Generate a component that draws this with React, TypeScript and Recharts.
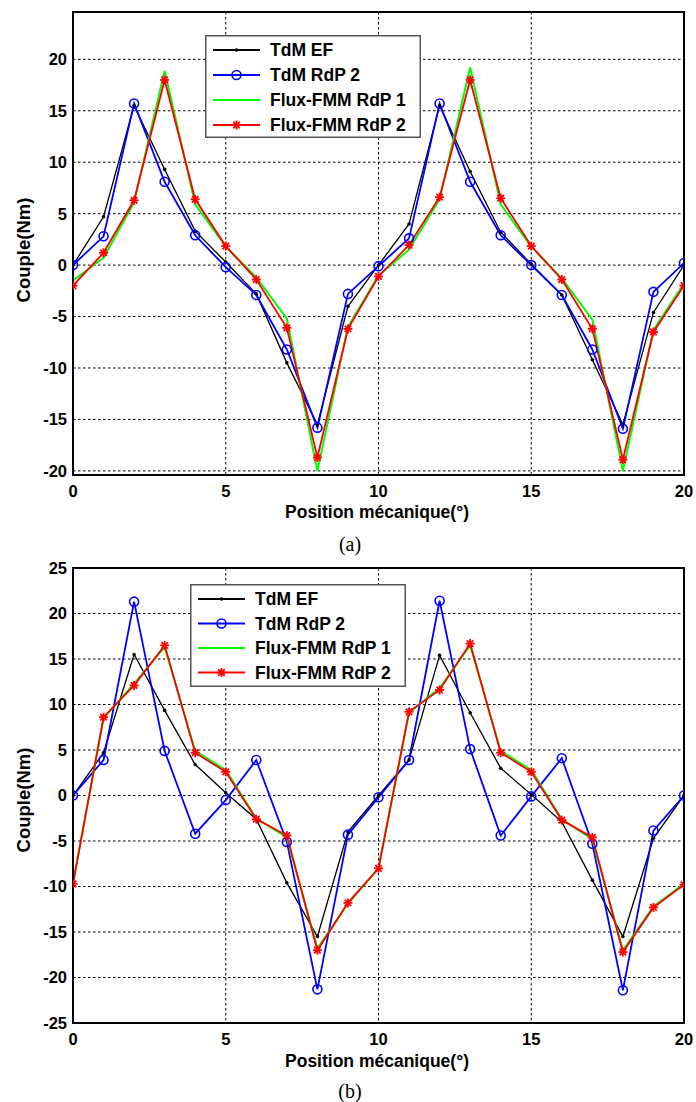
import React from 'react';
import { LineChart, Line, XAxis, YAxis, CartesianGrid, ReferenceArea, Legend } from 'recharts';

// ---------- data ----------
const positions = [0, 1, 2, 3, 4, 5, 6, 7, 8, 9, 10, 11, 12, 13, 14, 15, 16, 17, 18, 19, 20];

const seriesNames = ['TdM EF', 'TdM RdP 2', 'Flux-FMM RdP 1', 'Flux-FMM RdP 2'];

// chart (a)
const aTdmEF = [0, 4.7, 15.5, 9.3, 3.3, 0.3, -2.8, -9.5, -15.5, -4.0, 0, 4.0, 15.5, 9.1, 3.2, 0.1, -2.9, -9.2, -15.5, -4.6, 0];
const aTdmRdP2 = [0, 2.8, 15.7, 8.1, 2.9, -0.2, -2.9, -8.2, -15.8, -2.8, -0.1, 2.6, 15.7, 8.1, 2.9, 0, -2.9, -8.2, -15.9, -2.6, 0.2];
const aFluxRdP1 = [-1.5, 0.7, 6.1, 18.9, 5.9, 1.8, -1.2, -5.2, -20.0, -6.0, -1.0, 1.5, 6.4, 19.2, 5.9, 1.8, -1.3, -5.3, -20.0, -6.3, -1.8];
const aFluxRdP2 = [-2.0, 1.2, 6.3, 18.0, 6.4, 1.85, -1.4, -6.1, -18.7, -6.2, -1.1, 1.95, 6.6, 18.0, 6.5, 1.85, -1.4, -6.2, -18.9, -6.5, -2.0];

// chart (b)
const bTdmEF = [0, 4.7, 15.5, 9.35, 3.4, 0.3, -2.6, -9.6, -15.5, -4.0, 0, 3.9, 15.4, 9.1, 3.0, 0.1, -2.9, -9.3, -15.5, -4.7, 0];
const bTdmRdP2 = [0, 3.9, 21.3, 4.9, -4.2, -0.5, 3.9, -5.1, -21.3, -4.3, -0.2, 3.9, 21.4, 5.1, -4.4, -0.1, 4.1, -5.3, -21.4, -3.85, 0];
const bFluxRdP1 = [-9.6, 8.5, 12.3, 16.3, 4.9, 2.8, -2.5, -4.6, -16.8, -11.9, -8.0, 9.1, 11.8, 16.5, 4.9, 2.8, -2.6, -4.8, -17.0, -12.2, -9.7];
const bFluxRdP2 = [-9.7, 8.6, 12.1, 16.5, 4.7, 2.6, -2.6, -4.4, -17.0, -11.8, -8.0, 9.2, 11.6, 16.7, 4.7, 2.6, -2.7, -4.6, -17.2, -12.3, -9.8];

const xTicks = [0, 5, 10, 15, 20];
const yTicksA = [-20, -15, -10, -5, 0, 5, 10, 15, 20];
const yTicksB = [-25, -20, -15, -10, -5, 0, 5, 10, 15, 20, 25];
const yDomainA: [number, number] = [-20.4, 24.6];
const yDomainB: [number, number] = [-25, 25];

const xTitle = 'Position mécanique(°)';
const yTitle = 'Couple(Nm)';

const buildRows = (ef: number[], r2: number[], f1: number[], f2: number[]) =>
  positions.map((p, i) => ({ pos: p, ef: ef[i], rdp2: r2[i], f1: f1[i], f2: f2[i] }));

const rowsA = buildRows(aTdmEF, aTdmRdP2, aFluxRdP1, aFluxRdP2);
const rowsB = buildRows(bTdmEF, bTdmRdP2, bFluxRdP1, bFluxRdP2);

// ---------- styles ----------
const COLORS = ['#000000', '#0000ff', '#00ff00', '#ff0000'];
const WIDTHS = [1.3, 1.8, 2, 1.8];
const FONT = 'Arial, "Liberation Sans", sans-serif';

// ---------- markers ----------
const dotMarker = (props: any) => {
  const { cx, cy, index } = props;
  if (cx == null || cy == null) return <g key={`d${index}`} />;
  return <circle key={`d${index}`} cx={cx} cy={cy} r={1.8} fill="#000" stroke="none" />;
};

const circleMarker = (props: any) => {
  const { cx, cy, index } = props;
  if (cx == null || cy == null) return <g key={`c${index}`} />;
  return <circle key={`c${index}`} cx={cx} cy={cy} r={4.5} fill="none" stroke="#0000ff" strokeWidth={1.6} />;
};

const StarShape = ({ cx, cy, r, k }: { cx: number; cy: number; r: number; k?: string }) => {
  const d = r * 0.72;
  return (
    <g key={k} stroke="#ff0000" strokeWidth={1.8}>
      <line x1={cx - r} y1={cy} x2={cx + r} y2={cy} />
      <line x1={cx} y1={cy - r} x2={cx} y2={cy + r} />
      <line x1={cx - d} y1={cy - d} x2={cx + d} y2={cy + d} />
      <line x1={cx - d} y1={cy + d} x2={cx + d} y2={cy - d} />
    </g>
  );
};

const starMarker = (props: any) => {
  const { cx, cy, index } = props;
  if (cx == null || cy == null) return <g key={`s${index}`} />;
  return <StarShape key={`s${index}`} k={`s${index}`} cx={cx} cy={cy} r={4.5} />;
};

// ---------- legend ----------
const LegendBox = ({ rowYs }: { rowYs: number[] }) => {
  const w = 216;
  const h = 103;
  const lx1 = 8;
  const lx2 = 55;
  const mx = (lx1 + lx2) / 2;
  const tx = 65;
  return (
    <svg width={w} height={h} style={{ display: 'block' }}>
      <rect x={0.75} y={0.75} width={w - 1.5} height={h - 1.5} fill="#fff" stroke="#555" strokeWidth={1.5} />
      {seriesNames.map((name, i) => {
        const y = rowYs[i];
        return (
          <g key={name}>
            <line x1={lx1} y1={y} x2={lx2} y2={y} stroke={COLORS[i]} strokeWidth={2} />
            {i === 0 && <circle cx={mx} cy={y} r={1.8} fill="#000" />}
            {i === 1 && <circle cx={mx} cy={y} r={4.5} fill="none" stroke="#0000ff" strokeWidth={1.6} />}
            {i === 3 && <StarShape cx={mx} cy={y} r={4.5} />}
            <text x={tx} y={y} dy="0.36em" fontFamily={FONT} fontWeight="bold" fontSize={17.5} fill="#000">
              {name}
            </text>
          </g>
        );
      })}
    </svg>
  );
};

// ---------- one panel ----------
type PanelProps = {
  rows: any[];
  yDomain: [number, number];
  yTicks: number[];
  marginTop: number;
  height: number;
  xAxisHeight: number;
  legendLeft: number;
  legendTop: number;
  rowYs: number[];
};

const Panel = ({ rows, yDomain, yTicks, marginTop, height, xAxisHeight, legendLeft, legendTop, rowYs }: PanelProps) => {
  const tickStyle = { fontFamily: FONT, fontWeight: 'bold' as const, fontSize: 16.5, fill: '#000' };
  return (
    <LineChart
      width={696}
      height={height}
      data={rows}
      margin={{ top: marginTop, right: 12, left: 13, bottom: 0 }}
    >
      <CartesianGrid stroke="#000" strokeDasharray="2.5 2.5" strokeWidth={1} />
      <XAxis
        dataKey="pos"
        type="number"
        domain={[0, 20]}
        ticks={xTicks}
        height={xAxisHeight}
        tick={tickStyle}
        tickLine={false}
        tickSize={6}
        tickMargin={4}
        axisLine={{ stroke: '#000', strokeWidth: 2 }}
        allowDataOverflow
      />
      <YAxis
        type="number"
        domain={yDomain}
        ticks={yTicks}
        width={60}
        tick={tickStyle}
        tickLine={false}
        tickSize={4}
        tickMargin={2}
        axisLine={{ stroke: '#000', strokeWidth: 2 }}
        allowDataOverflow
        interval={0}
      />
      <ReferenceArea
        x1={0}
        x2={20}
        y1={yDomain[0]}
        y2={yDomain[1]}
        fill="none"
        fillOpacity={0}
        stroke="#000"
        strokeWidth={2}
        ifOverflow="visible"
      />
      <Legend
        layout="horizontal"
        verticalAlign="middle"
        align="center"
        wrapperStyle={{ left: legendLeft, top: legendTop, width: 216, height: 103 }}
        content={() => <LegendBox rowYs={rowYs} />}
      />
      <Line
        dataKey="ef"
        name={seriesNames[0]}
        stroke={COLORS[0]}
        strokeWidth={WIDTHS[0]}
        dot={dotMarker}
        activeDot={false}
        isAnimationActive={false}
        type="linear"
      />
      <Line
        dataKey="rdp2"
        name={seriesNames[1]}
        stroke={COLORS[1]}
        strokeWidth={WIDTHS[1]}
        dot={circleMarker}
        activeDot={false}
        isAnimationActive={false}
        type="linear"
      />
      <Line
        dataKey="f1"
        name={seriesNames[2]}
        stroke={COLORS[2]}
        strokeWidth={WIDTHS[2]}
        dot={false}
        activeDot={false}
        isAnimationActive={false}
        type="linear"
      />
      <Line
        dataKey="f2"
        name={seriesNames[3]}
        stroke={COLORS[3]}
        strokeWidth={WIDTHS[3]}
        dot={starMarker}
        activeDot={false}
        isAnimationActive={false}
        type="linear"
      />
    </LineChart>
  );
};

const titleStyle: React.CSSProperties = {
  position: 'absolute',
  fontFamily: FONT,
  fontWeight: 'bold',
  fontSize: 17.5,
  color: '#000',
  whiteSpace: 'nowrap',
  lineHeight: 1,
  transform: 'translate(-50%, -50%)',
};

const yTitleStyle: React.CSSProperties = {
  ...titleStyle,
  fontSize: 18.5,
  transform: 'translate(-50%, -50%) rotate(-90deg)',
};

const captionStyle: React.CSSProperties = {
  position: 'absolute',
  fontFamily: '"Liberation Serif", "Times New Roman", serif',
  fontSize: 20,
  color: '#000',
  lineHeight: 1,
  transform: 'translate(-50%, -50%)',
};

export default function App() {
  return (
    <div style={{ position: 'absolute', left: 0, top: 0, width: 696, height: 1102, background: '#fff', overflow: 'hidden' }}>
      <div style={{ position: 'absolute', left: 0, top: 0 }}>
        <Panel
          rows={rowsA}
          yDomain={yDomainA}
          yTicks={yTicksA}
          marginTop={12}
          height={520}
          xAxisHeight={45}
          legendLeft={205}
          legendTop={35}
          rowYs={[15, 40, 65, 90]}
        />
      </div>
      <div style={{ position: 'absolute', left: 0, top: 545 }}>
        <Panel
          rows={rowsB}
          yDomain={yDomainB}
          yTicks={yTicksB}
          marginTop={23}
          height={520}
          xAxisHeight={42}
          legendLeft={190}
          legendTop={38.5}
          rowYs={[15, 39.5, 64, 88.5]}
        />
      </div>
      <div style={{ ...titleStyle, left: 377, top: 513 }}>{xTitle}</div>
      <div style={{ ...titleStyle, left: 377, top: 1062 }}>{xTitle}</div>
      <div style={{ ...yTitleStyle, left: 24, top: 250 }}>{yTitle}</div>
      <div style={{ ...yTitleStyle, left: 24, top: 800 }}>{yTitle}</div>
      <div style={{ ...captionStyle, left: 350, top: 544 }}>(a)</div>
      <div style={{ ...captionStyle, left: 350, top: 1091 }}>(b)</div>
    </div>
  );
}
